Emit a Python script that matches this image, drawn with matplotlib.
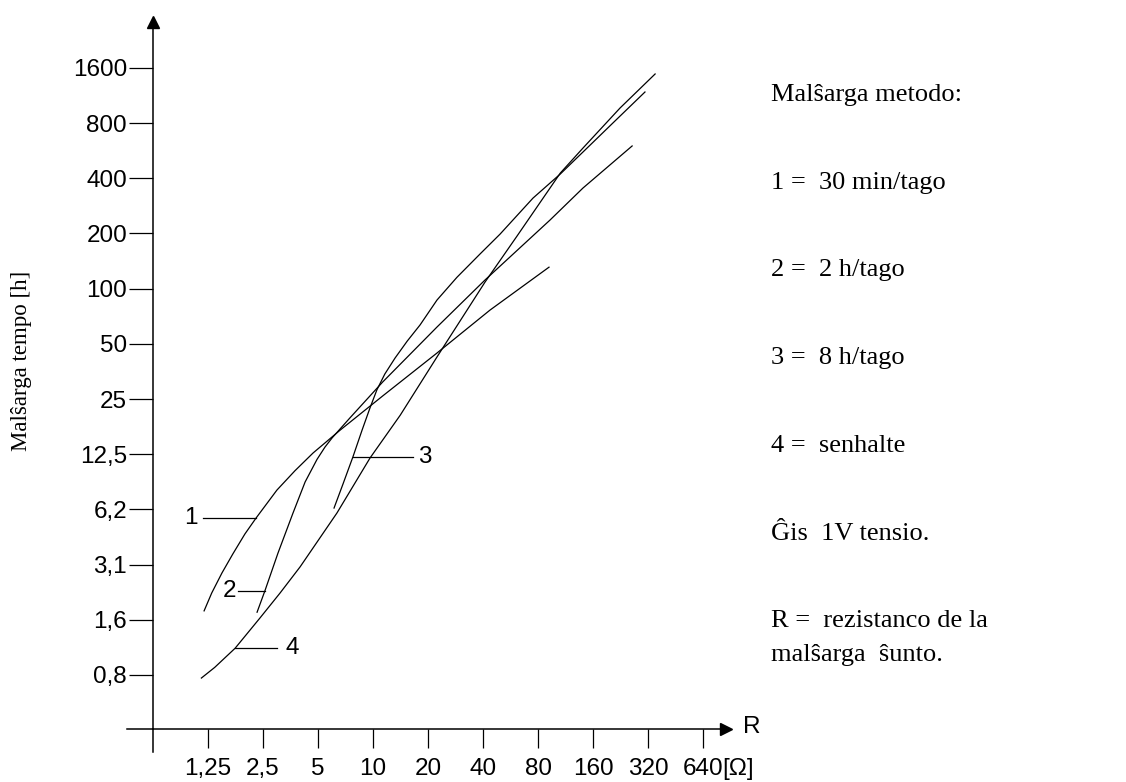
import matplotlib.pyplot as plt
from matplotlib.ticker import NullLocator

# axis ticks (each step doubles)
r_ticks = [1.25, 2.5, 5, 10, 20, 40, 80, 160, 320, 640]
r_labels = ["1,25", "2,5", "5", "10", "20", "40", "80", "160", "320", "640"]
t_ticks = [0.8, 1.6, 3.2, 6.4, 12.8, 25.6, 51.2, 102.4, 204.8, 409.6, 819.2, 1638.4]
t_labels = ["0,8", "1,6", "3,1", "6,2", "12,5", "25", "50", "100", "200", "400", "800", "1600"]

# curve 1 = 30 min/tago
r1 = [1.19, 1.31, 1.49, 1.71, 1.99, 2.29, 2.98, 3.74, 4.70, 6.60, 11.3, 22.4, 43.7, 91.9]
t1 = [1.79, 2.24, 2.88, 3.66, 4.70, 5.74, 8.16, 10.4, 13.0, 17.3, 26.6, 45.6, 78.2, 134]
# curve 2 = 2 h/tago
r2 = [2.32, 2.56, 3.02, 3.65, 4.25, 4.94, 5.46, 5.97, 6.68, 7.48, 11.3, 22.4, 41.0, 93.0, 141, 262]
t2 = [1.76, 2.30, 3.70, 6.12, 9.03, 12.0, 14.0, 15.7, 17.8, 20.2, 31.7, 63.2, 114, 242, 362, 614]
# curve 3 = 8 h/tago
r3 = [6.12, 6.85, 7.77, 8.71, 9.63, 10.5, 11.6, 13.2, 15.4, 18.1, 22.4, 28.8, 38.5, 49.6, 75.1,
      106, 141, 211, 308]
t3 = [6.51, 8.80, 12.4, 17.3, 22.9, 28.7, 35.0, 42.8, 53.0, 64.9, 88.7, 118, 158, 203, 319,
      432, 569, 840, 1209]
# curve 4 = senhalte
r4 = [1.15, 1.36, 1.76, 2.41, 3.10, 3.99, 6.35, 9.63, 14.1, 22.4, 41.0, 61.4, 106, 141, 225, 350]
t4 = [0.77, 0.88, 1.12, 1.64, 2.24, 3.11, 6.12, 12.2, 20.9, 43.4, 111, 198, 437, 598, 989, 1516]

# curve labels: (text, leader x start, leader x end, y, text x)
labels = [
    ("1", 1.17, 2.29, 5.74, 1.01),
    ("2", 1.82, 2.56, 2.30, 1.63),
    ("3", 7.77, 16.6, 12.4, 19.3),
    ("4", 1.76, 2.98, 1.12, 3.60),
]

legend_lines = [
    "Malŝarga metodo:",
    "1 =  30 min/tago",
    "2 =  2 h/tago",
    "3 =  8 h/tago",
    "4 =  senhalte",
    "Ĝis  1V tensio.",
    "R =  rezistanco de la",
    "malŝarga  ŝunto.",
]
legend_y = [95, 183, 270, 358, 446, 534, 621, 655]

W, H = 1126, 782
x0, x1 = 152.5, 726
y0, y1 = 729, 22

fig = plt.figure(figsize=(W / 100, H / 100), dpi=100)
ax = fig.add_axes([x0 / W, 1 - y0 / H, (x1 - x0) / W, (y0 - y1) / H])
ax.set_xscale("log", base=2)
ax.set_yscale("log", base=2)
ax.set_xlim(1.25 * 2 ** ((x0 - 208) / 55), 1.25 * 2 ** ((x1 - 208) / 55))
ax.set_ylim(0.8 * 2 ** ((675 - y0) / 55.2), 0.8 * 2 ** ((675 - y1) / 55.2))

sans = ["Liberation Sans", "DejaVu Sans"]
serif = ["Liberation Serif", "DejaVu Serif"]

ax.set_xticks(r_ticks, r_labels, family=sans)
ax.set_yticks(t_ticks, t_labels, family=sans)
ax.xaxis.set_minor_locator(NullLocator())
ax.yaxis.set_minor_locator(NullLocator())
ax.tick_params(axis="y", direction="out", length=17.3, width=0.9, pad=1, labelsize=17.5)
ax.tick_params(axis="x", direction="out", length=13.7, width=0.9, pad=7, labelsize=17.5)

for s in ["top", "right"]:
    ax.spines[s].set_visible(False)
for s in ["left", "bottom"]:
    ax.spines[s].set_linewidth(1.1)

# axis extensions and arrow heads
ax.plot([0, 0], [0, -23 / (y0 - y1)], transform=ax.transAxes, clip_on=False, color="black", lw=1.1)
ax.plot([-25.5 / (x1 - x0), 0], [0, 0], transform=ax.transAxes, clip_on=False, color="black", lw=1.1)
ax.plot(1, 0, marker=">", ms=9, color="black", transform=ax.transAxes, clip_on=False)
ax.plot(0, 1, marker="^", ms=9, color="black", transform=ax.transAxes, clip_on=False)

for r, t in [(r1, t1), (r2, t2), (r3, t3), (r4, t4)]:
    ax.plot(r, t, color="black", lw=0.9, clip_on=False, solid_joinstyle="round")

for txt, xa, xb, y, xt in labels:
    ax.plot([xa, xb], [y, y], color="black", lw=0.9)
    ax.text(xt, y, txt, ha="center", va="center", fontsize=17.5, family=sans)

fig.text(743 / W, 1 - 727 / H, "R", ha="left", va="center", fontsize=17.5, family=sans)
fig.text(722 / W, 1 - 769 / H, "[Ω]", ha="left", va="center", fontsize=17.5, family=sans)
fig.text(22 / W, 1 - 361 / H, "Malŝarga tempo [h]", rotation=90, ha="center", va="center",
         fontsize=16.5, family=serif)

for line, y in zip(legend_lines, legend_y):
    fig.text(771 / W, 1 - y / H, line, ha="left", va="center", fontsize=19, family=serif)

fig.savefig("out.png", dpi=100)
